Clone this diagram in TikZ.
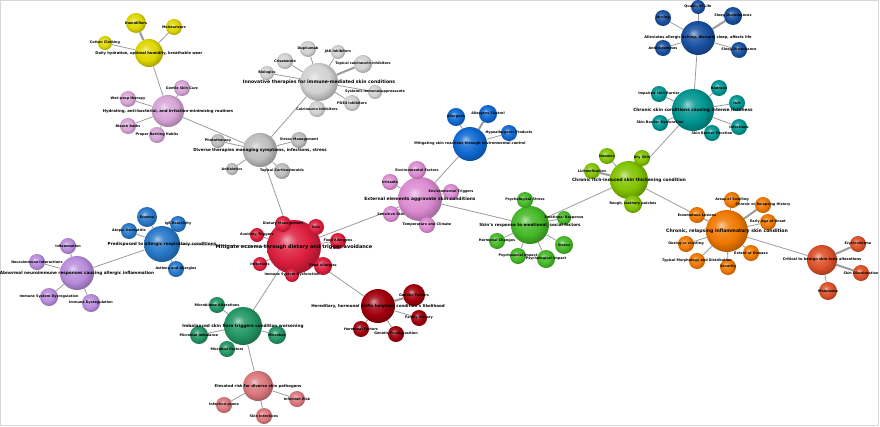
\documentclass[tikz,border=0pt]{standalone}
\usepackage{fontspec}
\setmainfont{DejaVu Sans}
\usepackage{xcolor}
\usepackage{tikz}
\usetikzlibrary{backgrounds}
\definecolor{eczCrimson}{RGB}{220,30,62}
\definecolor{eczSilver}{RGB}{190,190,190}
\definecolor{eczPearl}{RGB}{210,210,210}
\definecolor{eczLemon}{RGB}{222,215,0}
\definecolor{eczOrchid}{RGB}{215,165,215}
\definecolor{eczAzure}{RGB}{40,120,200}
\definecolor{eczLilac}{RGB}{185,140,220}
\definecolor{eczJade}{RGB}{35,150,100}
\definecolor{eczSalmon}{RGB}{220,120,125}
\definecolor{eczMaroon}{RGB}{160,0,12}
\definecolor{eczRose}{RGB}{220,140,210}
\definecolor{eczCobalt}{RGB}{15,105,210}
\definecolor{eczLime}{RGB}{70,185,40}
\definecolor{eczChartreuse}{RGB}{130,195,0}
\definecolor{eczTeal}{RGB}{0,150,145}
\definecolor{eczNavy}{RGB}{25,80,160}
\definecolor{eczOrange}{RGB}{240,120,0}
\definecolor{eczRust}{RGB}{220,80,40}
\definecolor{eczLink}{RGB}{155,155,155}
\definecolor{eczFrame}{RGB}{215,215,215}
\colorlet{orbTone}{gray}
\pgfdeclareradialshading[orbTone]{orb}{\pgfqpoint{-7bp}{7bp}}{%
  color(0bp)=(orbTone!40!white); color(8bp)=(orbTone!85!white);
  color(18bp)=(orbTone); color(28bp)=(orbTone!75!black);
  color(40bp)=(orbTone!60!black); color(50bp)=(orbTone!60!black)}

\begin{document}
\begin{tikzpicture}[
    x=1pt, y=-1pt,
    leaf/.style={circle, inner sep=0pt, minimum size=16pt, shading=orb, /utils/exec={\colorlet{orbTone}{#1}}},
    core/.style={circle, inner sep=0pt, shading=orb, /utils/exec={\colorlet{orbTone}{#1}}},
    tag/.style={inner sep=0pt, font=\fontsize{3.4}{4}\selectfont\bfseries},
    title/.style={inner sep=0pt, font=\fontsize{#1}{#1}\selectfont\bfseries},
    link/.style={draw=eczLink, line width=0.8pt},
    heavy/.style={draw=eczLink, line width=2pt}
]
\useasboundingbox (0,0) rectangle (880,426);
\draw[eczFrame, line width=1pt] (0.5,0.5) rectangle (878,425);

\node[core=eczCrimson, minimum size=54pt] (mit) at (294,247) {};
\node[core=eczSilver, minimum size=34pt] (divth) at (260,150) {};
\node[core=eczPearl, minimum size=38pt] (innov) at (319,82) {};
\node[core=eczLemon, minimum size=28pt] (daily) at (149,53) {};
\node[core=eczOrchid, minimum size=32pt] (hydr) at (168,111) {};
\node[core=eczAzure, minimum size=36pt] (predis) at (162,244) {};
\node[core=eczLilac, minimum size=34pt] (abnorm) at (77,273) {};
\node[core=eczJade, minimum size=38pt] (flora) at (243,326) {};
\node[core=eczSalmon, minimum size=30pt] (elev) at (258,386) {};
\node[core=eczMaroon, minimum size=34pt] (hered) at (378,306) {};
\node[core=eczRose, minimum size=44pt] (extern) at (420,199) {};
\node[core=eczCobalt, minimum size=34pt] (envctl) at (470,144) {};
\node[core=eczLime, minimum size=38pt] (emot) at (530,225) {};
\node[core=eczChartreuse, minimum size=38pt] (thick) at (629,180) {};
\node[core=eczTeal, minimum size=42pt] (itchy) at (693,110) {};
\node[core=eczNavy, minimum size=34pt] (allev) at (698,38) {};
\node[core=eczOrange, minimum size=42pt] (relap) at (727,231) {};
\node[core=eczRust, minimum size=30pt] (tone) at (822,260) {};

\node[leaf=eczCrimson] (mit1) at (283,224) {};
\node[leaf=eczCrimson] (mit2) at (316,227) {};
\node[leaf=eczCrimson, minimum size=14pt] (mit3) at (257,235) {};
\node[leaf=eczCrimson] (mit4) at (338,241) {};
\node[leaf=eczCrimson, minimum size=14pt] (mit5) at (260,264) {};
\node[leaf=eczCrimson, minimum size=18pt] (mit6) at (323,266) {};
\node[leaf=eczCrimson, minimum size=14pt] (mit7) at (292,275) {};
\node[leaf=eczSilver, minimum size=14pt] (divth1) at (218,141) {};
\node[leaf=eczSilver, minimum size=12pt] (divth2) at (232,169) {};
\node[leaf=eczSilver] (divth3) at (299,140) {};
\node[leaf=eczSilver] (divth4) at (282,171) {};
\node[leaf=eczPearl] (innov1) at (308,49) {};
\node[leaf=eczPearl, minimum size=14pt] (innov2) at (338,52) {};
\node[leaf=eczPearl] (innov3) at (285,61) {};
\node[leaf=eczPearl, minimum size=18pt] (innov4) at (363,64) {};
\node[leaf=eczPearl, minimum size=14pt] (innov5) at (267,73) {};
\node[leaf=eczPearl, minimum size=14pt] (innov6) at (375,92) {};
\node[leaf=eczPearl] (innov7) at (352,103) {};
\node[leaf=eczPearl] (innov8) at (317,109) {};
\node[leaf=eczLemon, minimum size=20pt] (daily1) at (136,23) {};
\node[leaf=eczLemon] (daily2) at (174,27) {};
\node[leaf=eczLemon, minimum size=14pt] (daily3) at (105,43) {};
\node[leaf=eczOrchid] (hydr1) at (182,88) {};
\node[leaf=eczOrchid] (hydr2) at (128,99) {};
\node[leaf=eczOrchid] (hydr3) at (128,126) {};
\node[leaf=eczOrchid] (hydr4) at (157,135) {};
\node[leaf=eczAzure, minimum size=20pt] (predis1) at (147,217) {};
\node[leaf=eczAzure] (predis2) at (178,224) {};
\node[leaf=eczAzure] (predis3) at (129,231) {};
\node[leaf=eczAzure] (predis4) at (176,269) {};
\node[leaf=eczLilac] (abnorm1) at (68,246) {};
\node[leaf=eczLilac] (abnorm2) at (37,262) {};
\node[leaf=eczLilac, minimum size=18pt] (abnorm3) at (49,297) {};
\node[leaf=eczLilac, minimum size=18pt] (abnorm4) at (91,303) {};
\node[leaf=eczJade] (flora1) at (217,305) {};
\node[leaf=eczJade, minimum size=18pt] (flora2) at (199,335) {};
\node[leaf=eczJade] (flora3) at (227,349) {};
\node[leaf=eczJade, minimum size=18pt] (flora4) at (277,335) {};
\node[leaf=eczSalmon] (elev1) at (224,405) {};
\node[leaf=eczSalmon] (elev2) at (264,416) {};
\node[leaf=eczSalmon] (elev3) at (297,399) {};
\node[leaf=eczMaroon, minimum size=22pt] (hered1) at (414,295) {};
\node[leaf=eczMaroon] (hered2) at (419,318) {};
\node[leaf=eczMaroon] (hered3) at (361,329) {};
\node[leaf=eczMaroon] (hered4) at (396,334) {};
\node[leaf=eczRose, minimum size=18pt] (extern1) at (417,170) {};
\node[leaf=eczRose] (extern2) at (390,182) {};
\node[leaf=eczRose] (extern3) at (451,192) {};
\node[leaf=eczRose] (extern4) at (391,214) {};
\node[leaf=eczRose] (extern5) at (427,225) {};
\node[leaf=eczCobalt, minimum size=18pt] (envctl1) at (456,117) {};
\node[leaf=eczCobalt, minimum size=18pt] (envctl2) at (488,114) {};
\node[leaf=eczCobalt] (envctl3) at (509,133) {};
\node[leaf=eczLime] (emot1) at (525,200) {};
\node[leaf=eczLime, minimum size=14pt] (emot2) at (564,218) {};
\node[leaf=eczLime] (emot3) at (497,241) {};
\node[leaf=eczLime, minimum size=18pt] (emot4) at (564,245) {};
\node[leaf=eczLime] (emot5) at (518,256) {};
\node[leaf=eczLime, minimum size=18pt] (emot6) at (546,259) {};
\node[leaf=eczChartreuse] (thick1) at (607,156) {};
\node[leaf=eczChartreuse] (thick2) at (642,158) {};
\node[leaf=eczChartreuse] (thick3) at (592,171) {};
\node[leaf=eczChartreuse, minimum size=18pt] (thick4) at (633,204) {};
\node[leaf=eczTeal] (itchy1) at (659,94) {};
\node[leaf=eczTeal] (itchy2) at (719,88) {};
\node[leaf=eczTeal] (itchy3) at (737,103) {};
\node[leaf=eczTeal] (itchy4) at (660,123) {};
\node[leaf=eczTeal] (itchy5) at (712,133) {};
\node[leaf=eczTeal] (itchy6) at (739,127) {};
\node[leaf=eczNavy, minimum size=14pt] (allev1) at (698,7) {};
\node[leaf=eczNavy] (allev2) at (663,18) {};
\node[leaf=eczNavy, minimum size=18pt] (allev3) at (733,16) {};
\node[leaf=eczNavy] (allev4) at (663,48) {};
\node[leaf=eczNavy] (allev5) at (739,50) {};
\node[leaf=eczOrange] (relap1) at (732,200) {};
\node[leaf=eczOrange] (relap2) at (763,205) {};
\node[leaf=eczOrange] (relap3) at (697,215) {};
\node[leaf=eczOrange] (relap4) at (768,222) {};
\node[leaf=eczOrange] (relap5) at (686,244) {};
\node[leaf=eczOrange] (relap6) at (751,253) {};
\node[leaf=eczOrange] (relap7) at (697,261) {};
\node[leaf=eczOrange] (relap8) at (728,267) {};
\node[leaf=eczRust] (tone1) at (858,244) {};
\node[leaf=eczRust] (tone2) at (861,273) {};
\node[leaf=eczRust, minimum size=18pt] (tone3) at (828,291) {};

\node[title=5] (mitt) at (mit) {Mitigate eczema through dietary and trigger avoidance};
\node[title=4.1] (divtht) at (divth) {Diverse therapies managing symptoms, infections, stress};
\node[title=4.6] (innovt) at (innov) {Innovative therapies for immune-mediated skin conditions};
\node[title=3.7] (dailyt) at (daily) {Daily hydration, optimal humidity, breathable wear};
\node[title=3.85] (hydrt) at (hydr) {Hydrating, anti-bacterial, and irritation-minimizing routines};
\node[title=4.2] (predist) at (predis) {Predisposed to allergic respiratory conditions};
\node[title=4.2] (abnormt) at (abnorm) {Abnormal neuroimmune responses causing allergic inflammation};
\node[title=4.2] (florat) at (flora) {Imbalanced skin flora triggers condition worsening};
\node[title=3.8] (elevt) at (elev) {Elevated risk for diverse skin pathogens};
\node[title=4] (heredt) at (hered) {Hereditary, hormonal shifts heighten condition's likelihood};
\node[title=4.4] (externt) at (extern) {External elements aggravate skin conditions};
\node[title=3.5] (envctlt) at (envctl) {Mitigating skin reactions through environmental control};
\node[title=4.1] (emott) at (emot) {Skin's response to emotional, social factors};
\node[title=4.35] (thickt) at (thick) {Chronic itch-induced skin thickening condition};
\node[title=4.3] (itchyt) at (itchy) {Chronic skin conditions causing intense itchiness};
\node[title=3.6] (allevt) at (allev) {Alleviates allergic itching, disrupts sleep, affects life};
\node[title=4.6] (relapt) at (relap) {Chronic, relapsing inflammatory skin condition};
\node[title=3.6] (tonet) at (tone) {Critical to benign skin tone alterations};

\node[tag] (mit1t) at (mit1) {Dietary Management};
\node[tag] (mit2t) at (mit2) {Skin};
\node[tag] (mit3t) at (mit3) {Avoiding Triggers};
\node[tag] (mit4t) at (mit4) {Food Allergens};
\node[tag] (mit5t) at (mit5) {Infections};
\node[tag] (mit6t) at (mit6) {Food Allergies};
\node[tag] (mit7t) at (mit7) {Immune System Dysfunction};
\node[tag] (divth1t) at (divth1) {Phototherapy};
\node[tag] (divth2t) at (divth2) {Antibiotics};
\node[tag] (divth3t) at (divth3) {Stress Management};
\node[tag] (divth4t) at (divth4) {Topical Corticosteroids};
\node[tag] (innov1t) at (innov1) {Dupilumab};
\node[tag] (innov2t) at (innov2) {JAK inhibitors};
\node[tag] (innov3t) at (innov3) {Crisaborole};
\node[tag] (innov4t) at (innov4) {Topical calcineurin inhibitors};
\node[tag] (innov5t) at (innov5) {Biologics};
\node[tag] (innov6t) at (innov6) {Systemic immunosuppressants};
\node[tag] (innov7t) at (innov7) {PDE4 inhibitors};
\node[tag] (innov8t) at (innov8) {Calcineurin inhibitors};
\node[tag] (daily1t) at (daily1) {Humidifiers};
\node[tag] (daily2t) at (daily2) {Moisturizers};
\node[tag] (daily3t) at (daily3) {Cotton Clothing};
\node[tag] (hydr1t) at (hydr1) {Gentle Skin Care};
\node[tag] (hydr2t) at (hydr2) {Wet-wrap therapy};
\node[tag] (hydr3t) at (hydr3) {Bleach baths};
\node[tag] (hydr4t) at (hydr4) {Proper Bathing Habits};
\node[tag] (predis1t) at (predis1) {Eczema};
\node[tag] (predis2t) at (predis2) {IgE Reactivity};
\node[tag] (predis3t) at (predis3) {Atopic Dermatitis};
\node[tag] (predis4t) at (predis4) {Asthma and Allergies};
\node[tag] (abnorm1t) at (abnorm1) {Inflammation};
\node[tag] (abnorm2t) at (abnorm2) {Neuroimmune Interactions};
\node[tag] (abnorm3t) at (abnorm3) {Immune System Dysregulation};
\node[tag] (abnorm4t) at (abnorm4) {Immune Dysregulation};
\node[tag] (flora1t) at (flora1) {Microbiome Alterations};
\node[tag] (flora2t) at (flora2) {Microbial Imbalance};
\node[tag] (flora3t) at (flora3) {Microbial Factors};
\node[tag] (flora4t) at (flora4) {Microbes};
\node[tag] (elev1t) at (elev1) {Infection-prone};
\node[tag] (elev2t) at (elev2) {Skin Infections};
\node[tag] (elev3t) at (elev3) {Infection Risk};
\node[tag] (hered1t) at (hered1) {Genetic Factors};
\node[tag] (hered2t) at (hered2) {Family History};
\node[tag] (hered3t) at (hered3) {Hormonal Factors};
\node[tag] (hered4t) at (hered4) {Genetic Predisposition};
\node[tag] (extern1t) at (extern1) {Environmental Factors};
\node[tag] (extern2t) at (extern2) {Irritants};
\node[tag] (extern3t) at (extern3) {Environmental Triggers};
\node[tag] (extern4t) at (extern4) {Sensitive Skin};
\node[tag] (extern5t) at (extern5) {Temperature and Climate};
\node[tag] (envctl1t) at (envctl1) {Allergens};
\node[tag] (envctl2t) at (envctl2) {Allergens Control};
\node[tag] (envctl3t) at (envctl3) {Hypoallergenic Products};
\node[tag] (emot1t) at (emot1) {Psychological Stress};
\node[tag] (emot2t) at (emot2) {Emotional Response};
\node[tag] (emot3t) at (emot3) {Hormonal Changes};
\node[tag] (emot4t) at (emot4) {Stress};
\node[tag] (emot5t) at (emot5) {Psychosocial Impact};
\node[tag] (emot6t) at (emot6) {Psychological Impact};
\node[tag] (thick1t) at (thick1) {Nodules};
\node[tag] (thick2t) at (thick2) {Dry Skin};
\node[tag] (thick3t) at (thick3) {Lichenification};
\node[tag] (thick4t) at (thick4) {Rough, leathery patches};
\node[tag] (itchy1t) at (itchy1) {Impaired Skin Barrier};
\node[tag] (itchy2t) at (itchy2) {Redness};
\node[tag] (itchy3t) at (itchy3) {Itch};
\node[tag] (itchy4t) at (itchy4) {Skin Barrier Dysfunction};
\node[tag] (itchy5t) at (itchy5) {Skin Barrier Function};
\node[tag] (itchy6t) at (itchy6) {Infections};
\node[tag] (allev1t) at (allev1) {Quality of Life};
\node[tag] (allev2t) at (allev2) {Itching};
\node[tag] (allev3t) at (allev3) {Sleep Disturbances};
\node[tag] (allev4t) at (allev4) {Antihistamines};
\node[tag] (allev5t) at (allev5) {Sleep Disturbance};
\node[tag] (relap1t) at (relap1) {Areas of Swelling};
\node[tag] (relap2t) at (relap2) {Chronic or Relapsing History};
\node[tag] (relap3t) at (relap3) {Eczematous Lesions};
\node[tag] (relap4t) at (relap4) {Early Age of Onset};
\node[tag] (relap5t) at (relap5) {Oozing or crusting};
\node[tag] (relap6t) at (relap6) {Extent of Disease};
\node[tag] (relap7t) at (relap7) {Typical Morphology and Distribution};
\node[tag] (relap8t) at (relap8) {Severity};
\node[tag] (tone1t) at (tone1) {Erythroderma};
\node[tag] (tone2t) at (tone2) {Skin Discoloration};
\node[tag] (tone3t) at (tone3) {Melanoma};

\begin{scope}[on background layer]
\foreach \a/\b in {mit/divth, mit/predis, mit/flora, mit/hered, mit/extern, divth/hydr, divth/innov, hydr/daily, predis/abnorm, flora/elev, extern/envctl, extern/emot, emot/thick, thick/itchy, itchy/allev, thick/relap, relap/tone}
    \draw[link] (\a) -- (\b);
\foreach \h/\n in {mit/7, divth/4, innov/8, daily/3, hydr/4, predis/4, abnorm/4, flora/4, elev/3, hered/4, extern/5, envctl/3, emot/6, thick/4, itchy/6, allev/5, relap/8, tone/3}
    \foreach \i in {1,...,\n}
        \draw[link] (\h) -- (\h\i);
\foreach \h/\i in {daily/1, innov/4, hered/1, tone/1, tone/2, relap/2, thick/3, allev/3, envctl/2}
    \draw[heavy] (\h) -- (\h\i);
\end{scope}
\end{tikzpicture}
\end{document}
